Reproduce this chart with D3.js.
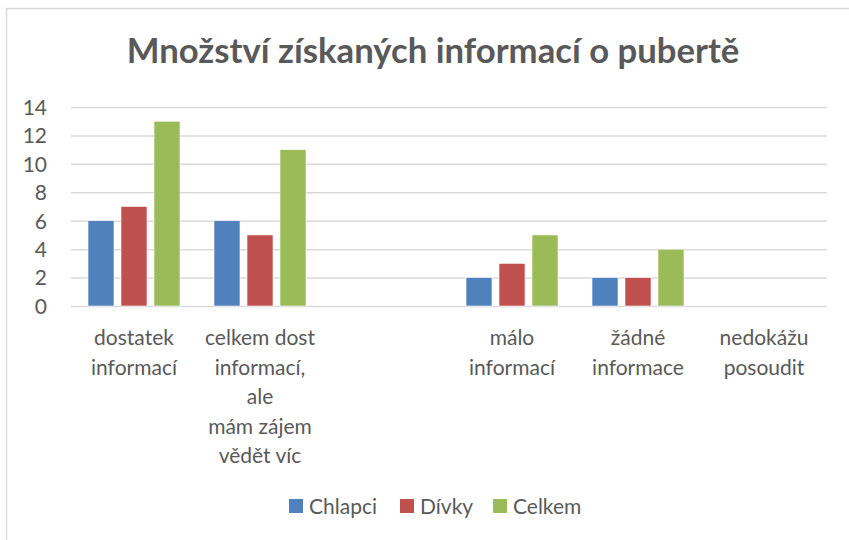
<!DOCTYPE html>
<html><head><meta charset="utf-8">
<script src="https://cdn.jsdelivr.net/npm/d3@7"></script>
<style>body{margin:0;background:#fff}svg{display:block}</style>
</head><body>
<svg id="c" width="849" height="540"></svg>
<script>
const title = "Množství získaných informací o pubertě";
const categories = [
  "dostatek\ninformací",
  "celkem dost\ninformací,\nale\nmám zájem\nvědět víc",
  "",
  "málo\ninformací",
  "žádné\ninformace",
  "nedokážu\nposoudit"
];
const seriesNames = ["Chlapci", "Dívky", "Celkem"];
const chlapci = [6, 6, 0, 2, 2, 0];
const divky   = [7, 5, 0, 3, 2, 0];
const celkem  = [13, 11, 0, 5, 4, 0];
const yTicks = [0, 2, 4, 6, 8, 10, 12, 14];
const colors = ["#4F81BD", "#C0504D", "#9BBB59"];

(function(){
const series = [chlapci, divky, celkem];
const svg = d3.select("#c");
const font = "Lato, 'Open Sans', sans-serif";
const txt = "#595959";
const fs = 21;

svg.append("path").attr("d","M6.5,540 V8.5 H849").attr("fill","none").attr("stroke","#d9d9d9").attr("stroke-width",1.5);

const pl = 71, pr = 827, pt = 107, pb = 306;
const x = d3.scaleBand().domain(d3.range(categories.length)).range([pl, pr]);
const y = d3.scaleLinear().domain([0, 14]).range([pb, pt]);

const t = svg.append("text").attr("x", 433).attr("y", 63).attr("text-anchor","middle")
  .attr("font-family", font).attr("font-weight","bold").attr("font-size", 31).attr("fill", txt).text(title);
const tw = t.node().getComputedTextLength();
t.attr("font-size", 31 * 613 / tw);

const yAxis = d3.axisLeft(y).tickValues(yTicks).tickSize(-(pr-pl)).tickPadding(24);
const ga = svg.append("g").attr("transform", `translate(${pl},0)`).call(yAxis);
ga.select(".domain").remove();
ga.selectAll(".tick line").attr("stroke","#d9d9d9").attr("stroke-width",1.5);
ga.selectAll(".tick text").attr("font-family", font).attr("font-size", fs).attr("fill", txt).attr("dy","0.35em");

const x1 = d3.scaleBand().domain(d3.range(3)).range([0, x.bandwidth()]).paddingInner(0.212).paddingOuter(0.515);
series.forEach((vals, si) => {
  svg.append("g").selectAll("rect").data(vals).join("rect")
    .attr("x", (d,i) => x(i) + x1(si))
    .attr("width", x1.bandwidth())
    .attr("y", d => y(d))
    .attr("height", d => pb - y(d))
    .attr("fill", colors[si])
    .attr("stroke", "#fff").attr("stroke-width", 0.6)
    .attr("display", d => d > 0 ? null : "none");
});

const lab = svg.append("g");
categories.forEach((c, i) => {
  const lines = c.split("\n");
  const tx = lab.append("text").attr("text-anchor","middle").attr("font-family", font).attr("font-size", fs).attr("fill", txt);
  lines.forEach((l, k) => {
    tx.append("tspan").attr("x", x(i) + x.bandwidth()/2).attr("y", 345 + k*29.5).text(l);
  });
});

const legX = [289, 400, 493];
seriesNames.forEach((n, i) => {
  svg.append("rect").attr("x", legX[i]).attr("y", 499).attr("width", 14).attr("height", 14).attr("fill", colors[i]);
  svg.append("text").attr("x", legX[i] + 20).attr("y", 514).attr("font-family", font).attr("font-size", fs).attr("fill", txt).text(n);
});
})();
</script>
</body></html>
